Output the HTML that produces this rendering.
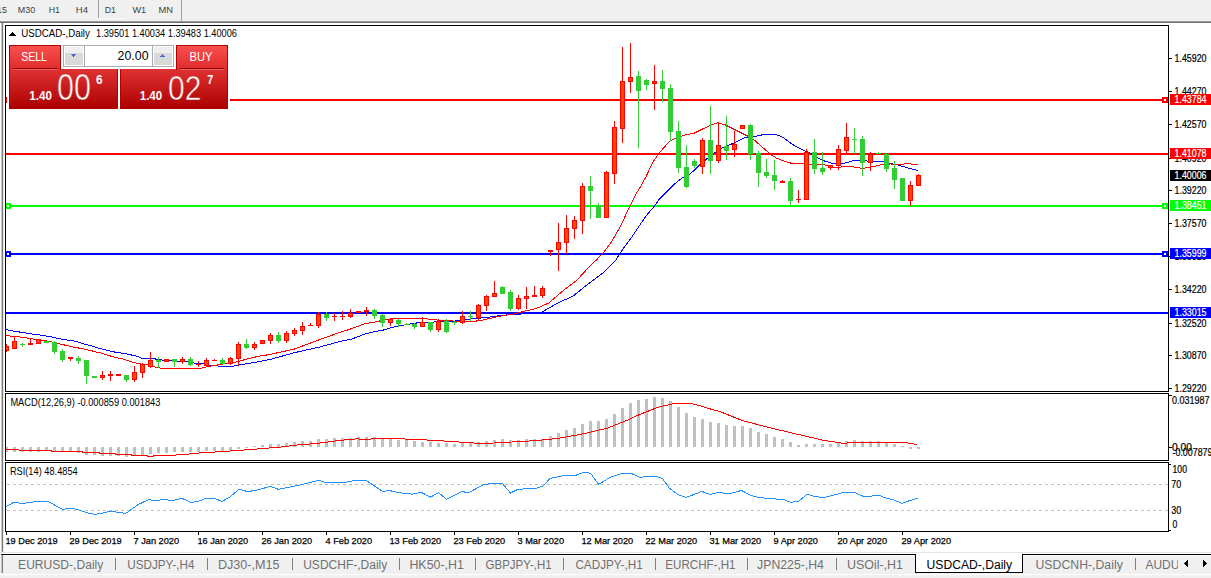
<!DOCTYPE html>
<html><head><meta charset="utf-8"><style>
html,body{margin:0;padding:0;background:#fff;overflow:hidden;width:1211px;height:578px}
svg{display:block;font-family:"Liberation Sans", sans-serif}
</style></head><body>
<svg width="1211" height="578" viewBox="0 0 1211 578" shape-rendering="crispEdges">
<rect x="0" y="0" width="1211" height="21" fill="#f0f0f0"/>
<rect x="0" y="21" width="1211" height="1" fill="#9a9a9a"/>
<rect x="0" y="22" width="1211" height="1" fill="#6e6e6e"/>
<pattern id="dots" width="2" height="2" patternUnits="userSpaceOnUse"><rect width="2" height="2" fill="#f6f6f6"/><rect width="1" height="1" fill="#e8e8e8"/><rect x="1" y="1" width="1" height="1" fill="#e8e8e8"/></pattern>
<rect x="99" y="0" width="25" height="18" fill="url(#dots)"/>
<rect x="98" y="18" width="26" height="1" fill="#fafafa"/>
<rect x="98" y="0" width="1" height="18" fill="#a0a0a0"/>
<rect x="181" y="0" width="1" height="21" fill="#a0a0a0"/>
<text x="-10.3" y="13" font-size="9.5" fill="#404040" textLength="17.3" lengthAdjust="spacingAndGlyphs">M15</text>
<text x="17.8" y="13" font-size="9.5" fill="#404040" textLength="17.3" lengthAdjust="spacingAndGlyphs">M30</text>
<text x="48.7" y="13" font-size="9.5" fill="#404040" textLength="11.2" lengthAdjust="spacingAndGlyphs">H1</text>
<text x="75.8" y="13" font-size="9.5" fill="#404040" textLength="12.2" lengthAdjust="spacingAndGlyphs">H4</text>
<text x="104.7" y="13" font-size="9.5" fill="#404040" textLength="11.3" lengthAdjust="spacingAndGlyphs">D1</text>
<text x="132.5" y="13" font-size="9.5" fill="#404040" textLength="13.7" lengthAdjust="spacingAndGlyphs">W1</text>
<text x="158.5" y="13" font-size="9.5" fill="#404040" textLength="14.5" lengthAdjust="spacingAndGlyphs">MN</text>
<rect x="1" y="23" width="1" height="529" fill="#c8c8c8"/>
<rect x="2" y="23" width="1" height="529" fill="#7a7a7a"/>
<rect x="3" y="23" width="1" height="529" fill="#e8e8e8"/>
<clipPath id="cmain"><rect x="6" y="26" width="1162" height="365"/></clipPath>
<clipPath id="cmacd"><rect x="6" y="394" width="1162" height="66"/></clipPath>
<clipPath id="crsi"><rect x="6" y="463" width="1162" height="68"/></clipPath>
<g clip-path="url(#cmain)">
<rect x="5" y="99" width="1164" height="2" fill="#ff0000"/>
<rect x="5" y="153" width="1164" height="2" fill="#ff0000"/>
<rect x="5" y="205" width="1164" height="2" fill="#00ff00"/>
<rect x="5" y="253" width="1164" height="2" fill="#0000ff"/>
<rect x="5" y="312" width="1164" height="2" fill="#0000ff"/>
<rect x="5" y="97" width="6" height="6" fill="#ff0000"/>
<rect x="7" y="99" width="2" height="2" fill="#fff"/>
<rect x="1162" y="97" width="6" height="6" fill="#ff0000"/>
<rect x="1164" y="99" width="2" height="2" fill="#fff"/>
<rect x="5" y="203" width="6" height="6" fill="#00ff00"/>
<rect x="7" y="205" width="2" height="2" fill="#fff"/>
<rect x="1162" y="203" width="6" height="6" fill="#00ff00"/>
<rect x="1164" y="205" width="2" height="2" fill="#fff"/>
<rect x="5" y="251" width="6" height="6" fill="#0000ff"/>
<rect x="7" y="253" width="2" height="2" fill="#fff"/>
<rect x="1162" y="251" width="6" height="6" fill="#0000ff"/>
<rect x="1164" y="253" width="2" height="2" fill="#fff"/>
<polyline points="5.0,329.3 10.6,330.6 18.8,331.9 24.9,332.8 29.2,333.6 35.3,334.5 43.0,335.4 49.0,336.5 54.3,337.3 57.8,338.6 67.3,340.0 75.0,341.2 80.3,342.8 85.4,344.3 92.4,346.0 100.0,348.6 112.4,351.7 124.8,353.5 137.2,356.3 142.0,358.4 152.0,358.4 159.5,359.7 169.4,360.9 186.6,361.5 195.1,363.3 203.6,364.0 210.8,365.4 218.1,366.0 233.8,366.0 237.5,365.1 242.3,364.5 249.6,363.3 256.9,362.1 269.8,359.5 294.5,352.7 319.3,347.1 340.0,341.5 352.1,339.0 364.2,334.2 373.9,331.8 383.6,330.0 392.1,327.3 400.5,325.7 410.2,323.9 418.7,322.7 427.2,322.4 440.0,321.7 452.0,321.5 459.4,320.3 466.8,319.4 476.7,318.4 489.0,317.2 501.5,315.3 513.9,314.4 526.0,313.7 540.0,313.0 543.7,311.0 557.5,303.1 573.1,296.1 586.9,284.9 604.2,271.9 615.8,260.0 622.7,249.3 631.0,238.2 640.0,224.7 646.9,215.0 653.9,206.7 659.4,199.1 667.7,190.8 674.6,183.9 681.6,178.3 690.0,174.2 700.2,164.5 711.1,155.1 722.0,148.1 734.5,142.7 743.8,138.0 754.7,136.5 765.6,134.1 774.9,134.1 782.7,137.2 792.0,144.2 800.0,148.6 809.7,152.9 817.0,157.4 824.4,161.0 834.7,164.0 842.0,163.5 848.0,162.5 853.8,160.3 859.7,160.3 867.0,161.0 881.8,161.5 890.6,163.5 898.0,165.0 906.8,167.6 917.8,170.6" fill="none" stroke="#0000ff" stroke-width="1"/>
<polyline points="5.0,335.4 11.0,336.2 25.0,337.5 30.0,338.6 35.0,339.2 43.0,340.2 49.0,341.5 57.0,343.0 61.0,344.3 67.0,345.5 73.0,347.0 78.5,348.0 84.6,349.2 90.6,350.5 96.0,352.0 101.0,353.0 112.4,356.6 124.8,359.5 133.4,362.5 141.0,364.0 152.0,365.5 155.7,367.2 163.0,368.6 199.0,368.6 210.8,366.0 218.1,364.8 225.4,363.6 235.1,362.3 243.5,360.0 252.0,357.8 260.0,356.0 269.8,354.5 294.5,349.0 319.3,339.7 340.0,332.4 352.1,328.5 364.2,323.9 376.3,321.7 380.0,320.9 393.3,318.5 427.2,318.4 428.4,319.6 443.3,320.3 450.7,320.9 464.3,321.5 479.2,320.9 489.0,318.6 501.5,315.9 513.9,314.0 522.5,311.6 532.5,309.5 540.0,307.0 548.8,303.0 562.7,291.0 576.5,280.6 590.4,265.5 596.4,260.0 603.3,252.7 611.6,241.6 620.0,227.1 628.2,209.8 636.5,193.2 640.0,187.5 646.1,176.5 653.0,162.0 659.9,152.2 669.6,141.2 676.6,137.7 685.0,134.9 694.0,133.3 711.1,124.8 718.1,122.8 725.1,124.8 734.5,129.5 746.9,135.7 754.7,140.4 762.5,147.4 771.8,155.1 776.5,158.2 789.0,162.9 800.0,163.7 824.4,164.7 833.2,167.6 842.0,166.9 853.8,166.9 862.6,168.4 871.5,166.9 881.8,164.7 890.6,164.0 900.9,164.4 908.2,163.5 917.8,165.0" fill="none" stroke="#ff0000" stroke-width="1"/>
<rect x="6" y="344" width="1" height="8" fill="#ff0000"/>
<rect x="4" y="346" width="5" height="5" fill="#ff0000"/>
<rect x="5" y="347" width="3" height="3" fill="#ff4500"/>
<rect x="14" y="336" width="1" height="13" fill="#ff0000"/>
<rect x="12" y="341" width="5" height="8" fill="#ff0000"/>
<rect x="13" y="342" width="3" height="6" fill="#ff4500"/>
<rect x="22" y="343" width="1" height="4" fill="#32cd32"/>
<rect x="20" y="344" width="5" height="1" fill="#32cd32"/>
<rect x="30" y="338" width="1" height="7" fill="#ff0000"/>
<rect x="28" y="343" width="5" height="2" fill="#ff0000"/>
<rect x="38" y="339" width="1" height="5" fill="#ff0000"/>
<rect x="36" y="339" width="5" height="5" fill="#ff0000"/>
<rect x="37" y="340" width="3" height="3" fill="#ff4500"/>
<rect x="46" y="341" width="1" height="2" fill="#32cd32"/>
<rect x="44" y="341" width="5" height="2" fill="#32cd32"/>
<rect x="54" y="341" width="1" height="13" fill="#32cd32"/>
<rect x="52" y="342" width="5" height="10" fill="#32cd32"/>
<rect x="62" y="349" width="1" height="13" fill="#32cd32"/>
<rect x="60" y="351" width="5" height="9" fill="#32cd32"/>
<rect x="70" y="357" width="1" height="4" fill="#ff0000"/>
<rect x="68" y="357" width="5" height="2" fill="#ff0000"/>
<rect x="78" y="356" width="1" height="8" fill="#32cd32"/>
<rect x="76" y="358" width="5" height="3" fill="#32cd32"/>
<rect x="86" y="360" width="1" height="24" fill="#32cd32"/>
<rect x="84" y="360" width="5" height="16" fill="#32cd32"/>
<rect x="94" y="376" width="1" height="2" fill="#32cd32"/>
<rect x="92" y="376" width="5" height="2" fill="#32cd32"/>
<rect x="102" y="371" width="1" height="9" fill="#ff0000"/>
<rect x="100" y="375" width="5" height="3" fill="#ff0000"/>
<rect x="101" y="376" width="3" height="1" fill="#ff4500"/>
<rect x="110" y="371" width="1" height="10" fill="#ff0000"/>
<rect x="108" y="374" width="5" height="2" fill="#ff0000"/>
<rect x="118" y="374" width="1" height="2" fill="#ff0000"/>
<rect x="116" y="374" width="5" height="2" fill="#ff0000"/>
<rect x="126" y="375" width="1" height="7" fill="#32cd32"/>
<rect x="124" y="375" width="5" height="5" fill="#32cd32"/>
<rect x="134" y="366" width="1" height="16" fill="#ff0000"/>
<rect x="132" y="372" width="5" height="8" fill="#ff0000"/>
<rect x="133" y="373" width="3" height="6" fill="#ff4500"/>
<rect x="142" y="363" width="1" height="15" fill="#ff0000"/>
<rect x="140" y="364" width="5" height="9" fill="#ff0000"/>
<rect x="141" y="365" width="3" height="7" fill="#ff4500"/>
<rect x="150" y="352" width="1" height="16" fill="#ff0000"/>
<rect x="148" y="360" width="5" height="7" fill="#ff0000"/>
<rect x="149" y="361" width="3" height="5" fill="#ff4500"/>
<rect x="158" y="357" width="1" height="11" fill="#32cd32"/>
<rect x="156" y="360" width="5" height="2" fill="#32cd32"/>
<rect x="166" y="359" width="1" height="3" fill="#ff0000"/>
<rect x="164" y="359" width="5" height="3" fill="#ff0000"/>
<rect x="165" y="360" width="3" height="1" fill="#ff4500"/>
<rect x="174" y="359" width="1" height="8" fill="#32cd32"/>
<rect x="172" y="359" width="5" height="3" fill="#32cd32"/>
<rect x="182" y="357" width="1" height="7" fill="#ff0000"/>
<rect x="180" y="359" width="5" height="3" fill="#ff0000"/>
<rect x="181" y="360" width="3" height="1" fill="#ff4500"/>
<rect x="190" y="357" width="1" height="9" fill="#32cd32"/>
<rect x="188" y="359" width="5" height="6" fill="#32cd32"/>
<rect x="198" y="361" width="1" height="6" fill="#ff0000"/>
<rect x="196" y="364" width="5" height="1" fill="#ff0000"/>
<rect x="206" y="358" width="1" height="9" fill="#ff0000"/>
<rect x="204" y="360" width="5" height="6" fill="#ff0000"/>
<rect x="205" y="361" width="3" height="4" fill="#ff4500"/>
<rect x="214" y="359" width="1" height="2" fill="#ff0000"/>
<rect x="212" y="360" width="5" height="1" fill="#ff0000"/>
<rect x="222" y="358" width="1" height="6" fill="#32cd32"/>
<rect x="220" y="360" width="5" height="4" fill="#32cd32"/>
<rect x="230" y="357" width="1" height="8" fill="#ff0000"/>
<rect x="228" y="358" width="5" height="6" fill="#ff0000"/>
<rect x="229" y="359" width="3" height="4" fill="#ff4500"/>
<rect x="238" y="342" width="1" height="24" fill="#ff0000"/>
<rect x="236" y="344" width="5" height="15" fill="#ff0000"/>
<rect x="237" y="345" width="3" height="13" fill="#ff4500"/>
<rect x="246" y="339" width="1" height="10" fill="#32cd32"/>
<rect x="244" y="344" width="5" height="4" fill="#32cd32"/>
<rect x="254" y="342" width="1" height="8" fill="#ff0000"/>
<rect x="252" y="344" width="5" height="4" fill="#ff0000"/>
<rect x="253" y="345" width="3" height="2" fill="#ff4500"/>
<rect x="262" y="340" width="1" height="4" fill="#ff0000"/>
<rect x="260" y="340" width="5" height="4" fill="#ff0000"/>
<rect x="261" y="341" width="3" height="2" fill="#ff4500"/>
<rect x="270" y="333" width="1" height="11" fill="#ff0000"/>
<rect x="268" y="335" width="5" height="6" fill="#ff0000"/>
<rect x="269" y="336" width="3" height="4" fill="#ff4500"/>
<rect x="278" y="332" width="1" height="11" fill="#32cd32"/>
<rect x="276" y="335" width="5" height="6" fill="#32cd32"/>
<rect x="286" y="331" width="1" height="12" fill="#ff0000"/>
<rect x="284" y="333" width="5" height="8" fill="#ff0000"/>
<rect x="285" y="334" width="3" height="6" fill="#ff4500"/>
<rect x="294" y="328" width="1" height="8" fill="#ff0000"/>
<rect x="292" y="330" width="5" height="4" fill="#ff0000"/>
<rect x="293" y="331" width="3" height="2" fill="#ff4500"/>
<rect x="302" y="322" width="1" height="13" fill="#ff0000"/>
<rect x="300" y="326" width="5" height="5" fill="#ff0000"/>
<rect x="301" y="327" width="3" height="3" fill="#ff4500"/>
<rect x="310" y="323" width="1" height="3" fill="#ff0000"/>
<rect x="308" y="325" width="5" height="1" fill="#ff0000"/>
<rect x="318" y="312" width="1" height="16" fill="#ff0000"/>
<rect x="316" y="314" width="5" height="12" fill="#ff0000"/>
<rect x="317" y="315" width="3" height="10" fill="#ff4500"/>
<rect x="326" y="312" width="1" height="9" fill="#32cd32"/>
<rect x="324" y="314" width="5" height="4" fill="#32cd32"/>
<rect x="334" y="313" width="1" height="8" fill="#ff0000"/>
<rect x="332" y="316" width="5" height="1" fill="#ff0000"/>
<rect x="342" y="311" width="1" height="9" fill="#ff0000"/>
<rect x="340" y="316" width="5" height="1" fill="#ff0000"/>
<rect x="350" y="309" width="1" height="9" fill="#ff0000"/>
<rect x="348" y="313" width="5" height="4" fill="#ff0000"/>
<rect x="349" y="314" width="3" height="2" fill="#ff4500"/>
<rect x="358" y="311" width="1" height="2" fill="#ff0000"/>
<rect x="356" y="311" width="5" height="2" fill="#ff0000"/>
<rect x="366" y="307" width="1" height="9" fill="#ff0000"/>
<rect x="364" y="310" width="5" height="2" fill="#ff0000"/>
<rect x="374" y="309" width="1" height="10" fill="#32cd32"/>
<rect x="372" y="310" width="5" height="6" fill="#32cd32"/>
<rect x="382" y="314" width="1" height="13" fill="#32cd32"/>
<rect x="380" y="315" width="5" height="8" fill="#32cd32"/>
<rect x="390" y="318" width="1" height="8" fill="#ff0000"/>
<rect x="388" y="319" width="5" height="4" fill="#ff0000"/>
<rect x="389" y="320" width="3" height="2" fill="#ff4500"/>
<rect x="398" y="319" width="1" height="8" fill="#32cd32"/>
<rect x="396" y="320" width="5" height="4" fill="#32cd32"/>
<rect x="406" y="323" width="1" height="2" fill="#32cd32"/>
<rect x="404" y="324" width="5" height="1" fill="#32cd32"/>
<rect x="414" y="323" width="1" height="6" fill="#32cd32"/>
<rect x="412" y="324" width="5" height="3" fill="#32cd32"/>
<rect x="422" y="317" width="1" height="10" fill="#ff0000"/>
<rect x="420" y="322" width="5" height="5" fill="#ff0000"/>
<rect x="421" y="323" width="3" height="3" fill="#ff4500"/>
<rect x="430" y="322" width="1" height="10" fill="#32cd32"/>
<rect x="428" y="322" width="5" height="8" fill="#32cd32"/>
<rect x="438" y="319" width="1" height="13" fill="#ff0000"/>
<rect x="436" y="321" width="5" height="9" fill="#ff0000"/>
<rect x="437" y="322" width="3" height="7" fill="#ff4500"/>
<rect x="446" y="319" width="1" height="14" fill="#32cd32"/>
<rect x="444" y="321" width="5" height="11" fill="#32cd32"/>
<rect x="454" y="321" width="1" height="4" fill="#32cd32"/>
<rect x="452" y="322" width="5" height="1" fill="#32cd32"/>
<rect x="462" y="311" width="1" height="13" fill="#ff0000"/>
<rect x="460" y="316" width="5" height="7" fill="#ff0000"/>
<rect x="461" y="317" width="3" height="5" fill="#ff4500"/>
<rect x="470" y="311" width="1" height="10" fill="#32cd32"/>
<rect x="468" y="316" width="5" height="1" fill="#32cd32"/>
<rect x="478" y="304" width="1" height="16" fill="#ff0000"/>
<rect x="476" y="305" width="5" height="13" fill="#ff0000"/>
<rect x="477" y="306" width="3" height="11" fill="#ff4500"/>
<rect x="486" y="295" width="1" height="16" fill="#ff0000"/>
<rect x="484" y="296" width="5" height="10" fill="#ff0000"/>
<rect x="485" y="297" width="3" height="8" fill="#ff4500"/>
<rect x="494" y="281" width="1" height="16" fill="#ff0000"/>
<rect x="492" y="293" width="5" height="4" fill="#ff0000"/>
<rect x="493" y="294" width="3" height="2" fill="#ff4500"/>
<rect x="502" y="286" width="1" height="8" fill="#32cd32"/>
<rect x="500" y="287" width="5" height="7" fill="#32cd32"/>
<rect x="510" y="290" width="1" height="21" fill="#32cd32"/>
<rect x="508" y="292" width="5" height="17" fill="#32cd32"/>
<rect x="518" y="295" width="1" height="15" fill="#ff0000"/>
<rect x="516" y="298" width="5" height="11" fill="#ff0000"/>
<rect x="517" y="299" width="3" height="9" fill="#ff4500"/>
<rect x="526" y="287" width="1" height="22" fill="#ff0000"/>
<rect x="524" y="296" width="5" height="3" fill="#ff0000"/>
<rect x="525" y="297" width="3" height="1" fill="#ff4500"/>
<rect x="534" y="286" width="1" height="11" fill="#ff0000"/>
<rect x="532" y="295" width="5" height="2" fill="#ff0000"/>
<rect x="542" y="286" width="1" height="12" fill="#ff0000"/>
<rect x="540" y="288" width="5" height="8" fill="#ff0000"/>
<rect x="541" y="289" width="3" height="6" fill="#ff4500"/>
<rect x="550" y="250" width="1" height="6" fill="#ff0000"/>
<rect x="548" y="250" width="5" height="2" fill="#ff0000"/>
<rect x="558" y="223" width="1" height="48" fill="#ff0000"/>
<rect x="556" y="242" width="5" height="8" fill="#ff0000"/>
<rect x="557" y="243" width="3" height="6" fill="#ff4500"/>
<rect x="566" y="215" width="1" height="39" fill="#ff0000"/>
<rect x="564" y="228" width="5" height="15" fill="#ff0000"/>
<rect x="565" y="229" width="3" height="13" fill="#ff4500"/>
<rect x="574" y="216" width="1" height="23" fill="#ff0000"/>
<rect x="572" y="220" width="5" height="9" fill="#ff0000"/>
<rect x="573" y="221" width="3" height="7" fill="#ff4500"/>
<rect x="582" y="183" width="1" height="51" fill="#ff0000"/>
<rect x="580" y="186" width="5" height="35" fill="#ff0000"/>
<rect x="581" y="187" width="3" height="33" fill="#ff4500"/>
<rect x="590" y="176" width="1" height="43" fill="#32cd32"/>
<rect x="588" y="186" width="5" height="5" fill="#32cd32"/>
<rect x="598" y="203" width="1" height="15" fill="#32cd32"/>
<rect x="596" y="205" width="5" height="13" fill="#32cd32"/>
<rect x="606" y="171" width="1" height="47" fill="#ff0000"/>
<rect x="604" y="172" width="5" height="46" fill="#ff0000"/>
<rect x="605" y="173" width="3" height="44" fill="#ff4500"/>
<rect x="614" y="121" width="1" height="63" fill="#ff0000"/>
<rect x="612" y="127" width="5" height="47" fill="#ff0000"/>
<rect x="613" y="128" width="3" height="45" fill="#ff4500"/>
<rect x="622" y="47" width="1" height="96" fill="#ff0000"/>
<rect x="620" y="81" width="5" height="48" fill="#ff0000"/>
<rect x="621" y="82" width="3" height="46" fill="#ff4500"/>
<rect x="630" y="43" width="1" height="50" fill="#ff0000"/>
<rect x="628" y="77" width="5" height="5" fill="#ff0000"/>
<rect x="629" y="78" width="3" height="3" fill="#ff4500"/>
<rect x="638" y="71" width="1" height="77" fill="#32cd32"/>
<rect x="636" y="76" width="5" height="15" fill="#32cd32"/>
<rect x="646" y="79" width="1" height="11" fill="#32cd32"/>
<rect x="644" y="80" width="5" height="5" fill="#32cd32"/>
<rect x="654" y="65" width="1" height="45" fill="#ff0000"/>
<rect x="652" y="81" width="5" height="3" fill="#ff0000"/>
<rect x="653" y="82" width="3" height="1" fill="#ff4500"/>
<rect x="662" y="70" width="1" height="32" fill="#32cd32"/>
<rect x="660" y="81" width="5" height="8" fill="#32cd32"/>
<rect x="670" y="84" width="1" height="57" fill="#32cd32"/>
<rect x="668" y="88" width="5" height="44" fill="#32cd32"/>
<rect x="678" y="121" width="1" height="52" fill="#32cd32"/>
<rect x="676" y="131" width="5" height="37" fill="#32cd32"/>
<rect x="686" y="145" width="1" height="43" fill="#32cd32"/>
<rect x="684" y="167" width="5" height="20" fill="#32cd32"/>
<rect x="694" y="159" width="1" height="9" fill="#32cd32"/>
<rect x="692" y="161" width="5" height="5" fill="#32cd32"/>
<rect x="702" y="138" width="1" height="36" fill="#ff0000"/>
<rect x="700" y="140" width="5" height="27" fill="#ff0000"/>
<rect x="701" y="141" width="3" height="25" fill="#ff4500"/>
<rect x="710" y="106" width="1" height="68" fill="#32cd32"/>
<rect x="708" y="140" width="5" height="21" fill="#32cd32"/>
<rect x="718" y="122" width="1" height="41" fill="#ff0000"/>
<rect x="716" y="145" width="5" height="16" fill="#ff0000"/>
<rect x="717" y="146" width="3" height="14" fill="#ff4500"/>
<rect x="726" y="116" width="1" height="44" fill="#32cd32"/>
<rect x="724" y="146" width="5" height="5" fill="#32cd32"/>
<rect x="734" y="131" width="1" height="26" fill="#ff0000"/>
<rect x="732" y="144" width="5" height="6" fill="#ff0000"/>
<rect x="733" y="145" width="3" height="4" fill="#ff4500"/>
<rect x="742" y="125" width="1" height="4" fill="#ff0000"/>
<rect x="740" y="125" width="5" height="4" fill="#ff0000"/>
<rect x="741" y="126" width="3" height="2" fill="#ff4500"/>
<rect x="750" y="124" width="1" height="36" fill="#32cd32"/>
<rect x="748" y="125" width="5" height="29" fill="#32cd32"/>
<rect x="758" y="151" width="1" height="36" fill="#32cd32"/>
<rect x="756" y="153" width="5" height="20" fill="#32cd32"/>
<rect x="766" y="159" width="1" height="19" fill="#32cd32"/>
<rect x="764" y="172" width="5" height="4" fill="#32cd32"/>
<rect x="774" y="160" width="1" height="30" fill="#32cd32"/>
<rect x="772" y="175" width="5" height="6" fill="#32cd32"/>
<rect x="782" y="180" width="1" height="3" fill="#ff0000"/>
<rect x="780" y="181" width="5" height="2" fill="#ff0000"/>
<rect x="790" y="178" width="1" height="28" fill="#32cd32"/>
<rect x="788" y="181" width="5" height="20" fill="#32cd32"/>
<rect x="798" y="190" width="1" height="13" fill="#ff0000"/>
<rect x="796" y="199" width="5" height="1" fill="#ff0000"/>
<rect x="806" y="149" width="1" height="51" fill="#ff0000"/>
<rect x="804" y="152" width="5" height="48" fill="#ff0000"/>
<rect x="805" y="153" width="3" height="46" fill="#ff4500"/>
<rect x="814" y="139" width="1" height="35" fill="#32cd32"/>
<rect x="812" y="152" width="5" height="17" fill="#32cd32"/>
<rect x="822" y="152" width="1" height="23" fill="#32cd32"/>
<rect x="820" y="168" width="5" height="4" fill="#32cd32"/>
<rect x="830" y="165" width="1" height="5" fill="#ff0000"/>
<rect x="828" y="165" width="5" height="3" fill="#ff0000"/>
<rect x="829" y="166" width="3" height="1" fill="#ff4500"/>
<rect x="838" y="145" width="1" height="25" fill="#ff0000"/>
<rect x="836" y="149" width="5" height="17" fill="#ff0000"/>
<rect x="837" y="150" width="3" height="15" fill="#ff4500"/>
<rect x="846" y="123" width="1" height="31" fill="#ff0000"/>
<rect x="844" y="137" width="5" height="14" fill="#ff0000"/>
<rect x="845" y="138" width="3" height="12" fill="#ff4500"/>
<rect x="854" y="128" width="1" height="26" fill="#32cd32"/>
<rect x="852" y="139" width="5" height="1" fill="#32cd32"/>
<rect x="862" y="136" width="1" height="40" fill="#32cd32"/>
<rect x="860" y="139" width="5" height="24" fill="#32cd32"/>
<rect x="870" y="152" width="1" height="19" fill="#ff0000"/>
<rect x="868" y="154" width="5" height="9" fill="#ff0000"/>
<rect x="869" y="155" width="3" height="7" fill="#ff4500"/>
<rect x="878" y="152" width="1" height="2" fill="#32cd32"/>
<rect x="876" y="153" width="5" height="1" fill="#32cd32"/>
<rect x="886" y="153" width="1" height="19" fill="#32cd32"/>
<rect x="884" y="154" width="5" height="15" fill="#32cd32"/>
<rect x="894" y="161" width="1" height="28" fill="#32cd32"/>
<rect x="892" y="168" width="5" height="12" fill="#32cd32"/>
<rect x="902" y="178" width="1" height="23" fill="#32cd32"/>
<rect x="900" y="178" width="5" height="23" fill="#32cd32"/>
<rect x="910" y="181" width="1" height="25" fill="#ff0000"/>
<rect x="908" y="185" width="5" height="16" fill="#ff0000"/>
<rect x="909" y="186" width="3" height="14" fill="#ff4500"/>
<rect x="918" y="174" width="1" height="12" fill="#ff0000"/>
<rect x="916" y="175" width="5" height="11" fill="#ff0000"/>
<rect x="917" y="176" width="3" height="9" fill="#ff4500"/>
</g>
<rect x="5" y="25" width="1164" height="1" fill="#000"/>
<rect x="5" y="391" width="1164" height="1" fill="#000"/>
<rect x="5" y="25" width="1" height="367" fill="#000"/>
<rect x="1168" y="25" width="1" height="367" fill="#000"/>
<rect x="5" y="393" width="1164" height="1" fill="#000"/>
<rect x="5" y="460" width="1164" height="1" fill="#000"/>
<rect x="5" y="393" width="1" height="68" fill="#000"/>
<rect x="1168" y="393" width="1" height="68" fill="#000"/>
<rect x="5" y="462" width="1164" height="1" fill="#000"/>
<rect x="5" y="531" width="1164" height="1" fill="#000"/>
<rect x="5" y="462" width="1" height="70" fill="#000"/>
<rect x="1168" y="462" width="1" height="70" fill="#000"/>
<rect x="1169" y="58" width="3" height="1" fill="#000"/>
<text x="1174.5" y="62" font-size="10" fill="#000" textLength="32" lengthAdjust="spacingAndGlyphs" stroke="#000" stroke-width="0.2">1.45920</text>
<rect x="1169" y="91" width="3" height="1" fill="#000"/>
<text x="1174.5" y="95" font-size="10" fill="#000" textLength="32" lengthAdjust="spacingAndGlyphs" stroke="#000" stroke-width="0.2">1.44270</text>
<rect x="1169" y="124" width="3" height="1" fill="#000"/>
<text x="1174.5" y="128" font-size="10" fill="#000" textLength="32" lengthAdjust="spacingAndGlyphs" stroke="#000" stroke-width="0.2">1.42570</text>
<rect x="1169" y="158" width="3" height="1" fill="#000"/>
<text x="1174.5" y="162" font-size="10" fill="#000" textLength="32" lengthAdjust="spacingAndGlyphs" stroke="#000" stroke-width="0.2">1.40920</text>
<rect x="1169" y="190" width="3" height="1" fill="#000"/>
<text x="1174.5" y="194" font-size="10" fill="#000" textLength="32" lengthAdjust="spacingAndGlyphs" stroke="#000" stroke-width="0.2">1.39220</text>
<rect x="1169" y="223" width="3" height="1" fill="#000"/>
<text x="1174.5" y="227" font-size="10" fill="#000" textLength="32" lengthAdjust="spacingAndGlyphs" stroke="#000" stroke-width="0.2">1.37570</text>
<rect x="1169" y="256" width="3" height="1" fill="#000"/>
<text x="1174.5" y="260" font-size="10" fill="#000" textLength="32" lengthAdjust="spacingAndGlyphs" stroke="#000" stroke-width="0.2">1.35920</text>
<rect x="1169" y="289" width="3" height="1" fill="#000"/>
<text x="1174.5" y="293" font-size="10" fill="#000" textLength="32" lengthAdjust="spacingAndGlyphs" stroke="#000" stroke-width="0.2">1.34220</text>
<rect x="1169" y="323" width="3" height="1" fill="#000"/>
<text x="1174.5" y="327" font-size="10" fill="#000" textLength="32" lengthAdjust="spacingAndGlyphs" stroke="#000" stroke-width="0.2">1.32520</text>
<rect x="1169" y="355" width="3" height="1" fill="#000"/>
<text x="1174.5" y="359" font-size="10" fill="#000" textLength="32" lengthAdjust="spacingAndGlyphs" stroke="#000" stroke-width="0.2">1.30870</text>
<rect x="1169" y="388" width="3" height="1" fill="#000"/>
<text x="1174.5" y="392" font-size="10" fill="#000" textLength="32" lengthAdjust="spacingAndGlyphs" stroke="#000" stroke-width="0.2">1.29220</text>
<rect x="1170" y="94" width="41" height="11" fill="#ff0000"/>
<text x="1174.5" y="103" font-size="10" fill="#fff" textLength="32" lengthAdjust="spacingAndGlyphs" stroke="#fff" stroke-width="0.2">1.43784</text>
<rect x="1170" y="148" width="41" height="11" fill="#ff0000"/>
<text x="1174.5" y="157" font-size="10" fill="#fff" textLength="32" lengthAdjust="spacingAndGlyphs" stroke="#fff" stroke-width="0.2">1.41078</text>
<rect x="1170" y="170" width="41" height="11" fill="#000000"/>
<text x="1174.5" y="179" font-size="10" fill="#fff" textLength="32" lengthAdjust="spacingAndGlyphs" stroke="#fff" stroke-width="0.2">1.40006</text>
<rect x="1170" y="200" width="41" height="11" fill="#00ff00"/>
<text x="1174.5" y="209" font-size="10" fill="#fff" textLength="32" lengthAdjust="spacingAndGlyphs" stroke="#fff" stroke-width="0.2">1.38451</text>
<rect x="1170" y="248" width="41" height="11" fill="#0000ff"/>
<text x="1174.5" y="257" font-size="10" fill="#fff" textLength="32" lengthAdjust="spacingAndGlyphs" stroke="#fff" stroke-width="0.2">1.35999</text>
<rect x="1170" y="307" width="41" height="11" fill="#0000ff"/>
<text x="1174.5" y="316" font-size="10" fill="#fff" textLength="32" lengthAdjust="spacingAndGlyphs" stroke="#fff" stroke-width="0.2">1.33015</text>
<rect x="12" y="32" width="1" height="1" fill="#000"/>
<rect x="11" y="33" width="3" height="1" fill="#000"/>
<rect x="10" y="34" width="5" height="1" fill="#000"/>
<rect x="9" y="35" width="7" height="1" fill="#000"/>
<text x="21.3" y="37" font-size="10" fill="#000" textLength="68.5" lengthAdjust="spacingAndGlyphs">USDCAD-,Daily</text>
<text x="96" y="37" font-size="10" fill="#000" textLength="141" lengthAdjust="spacingAndGlyphs">1.39501 1.40034 1.39483 1.40006</text>
<g clip-path="url(#cmacd)">
<rect x="5" y="447" width="3" height="5" fill="#c0c0c0"/>
<rect x="13" y="447" width="3" height="5" fill="#c0c0c0"/>
<rect x="21" y="447" width="3" height="5" fill="#c0c0c0"/>
<rect x="29" y="447" width="3" height="5" fill="#c0c0c0"/>
<rect x="37" y="447" width="3" height="5" fill="#c0c0c0"/>
<rect x="45" y="447" width="3" height="4" fill="#c0c0c0"/>
<rect x="53" y="447" width="3" height="4" fill="#c0c0c0"/>
<rect x="61" y="447" width="3" height="5" fill="#c0c0c0"/>
<rect x="69" y="447" width="3" height="5" fill="#c0c0c0"/>
<rect x="77" y="447" width="3" height="6" fill="#c0c0c0"/>
<rect x="85" y="447" width="3" height="8" fill="#c0c0c0"/>
<rect x="93" y="447" width="3" height="8" fill="#c0c0c0"/>
<rect x="101" y="447" width="3" height="9" fill="#c0c0c0"/>
<rect x="109" y="447" width="3" height="9" fill="#c0c0c0"/>
<rect x="117" y="447" width="3" height="9" fill="#c0c0c0"/>
<rect x="125" y="447" width="3" height="10" fill="#c0c0c0"/>
<rect x="133" y="447" width="3" height="9" fill="#c0c0c0"/>
<rect x="141" y="447" width="3" height="8" fill="#c0c0c0"/>
<rect x="149" y="447" width="3" height="7" fill="#c0c0c0"/>
<rect x="157" y="447" width="3" height="6" fill="#c0c0c0"/>
<rect x="165" y="447" width="3" height="6" fill="#c0c0c0"/>
<rect x="173" y="447" width="3" height="5" fill="#c0c0c0"/>
<rect x="181" y="447" width="3" height="5" fill="#c0c0c0"/>
<rect x="189" y="447" width="3" height="5" fill="#c0c0c0"/>
<rect x="197" y="447" width="3" height="5" fill="#c0c0c0"/>
<rect x="205" y="447" width="3" height="4" fill="#c0c0c0"/>
<rect x="213" y="447" width="3" height="4" fill="#c0c0c0"/>
<rect x="221" y="447" width="3" height="4" fill="#c0c0c0"/>
<rect x="229" y="447" width="3" height="3" fill="#c0c0c0"/>
<rect x="237" y="447" width="3" height="2" fill="#c0c0c0"/>
<rect x="245" y="447" width="3" height="1" fill="#c0c0c0"/>
<rect x="253" y="446" width="3" height="1" fill="#c0c0c0"/>
<rect x="261" y="445" width="3" height="2" fill="#c0c0c0"/>
<rect x="269" y="444" width="3" height="3" fill="#c0c0c0"/>
<rect x="277" y="444" width="3" height="3" fill="#c0c0c0"/>
<rect x="285" y="443" width="3" height="4" fill="#c0c0c0"/>
<rect x="293" y="442" width="3" height="5" fill="#c0c0c0"/>
<rect x="301" y="441" width="3" height="6" fill="#c0c0c0"/>
<rect x="309" y="441" width="3" height="6" fill="#c0c0c0"/>
<rect x="317" y="439" width="3" height="8" fill="#c0c0c0"/>
<rect x="325" y="439" width="3" height="8" fill="#c0c0c0"/>
<rect x="333" y="438" width="3" height="9" fill="#c0c0c0"/>
<rect x="341" y="438" width="3" height="9" fill="#c0c0c0"/>
<rect x="349" y="438" width="3" height="9" fill="#c0c0c0"/>
<rect x="357" y="437" width="3" height="10" fill="#c0c0c0"/>
<rect x="365" y="437" width="3" height="10" fill="#c0c0c0"/>
<rect x="373" y="437" width="3" height="10" fill="#c0c0c0"/>
<rect x="381" y="438" width="3" height="9" fill="#c0c0c0"/>
<rect x="389" y="438" width="3" height="9" fill="#c0c0c0"/>
<rect x="397" y="440" width="3" height="7" fill="#c0c0c0"/>
<rect x="405" y="440" width="3" height="7" fill="#c0c0c0"/>
<rect x="413" y="441" width="3" height="6" fill="#c0c0c0"/>
<rect x="421" y="442" width="3" height="5" fill="#c0c0c0"/>
<rect x="429" y="442" width="3" height="5" fill="#c0c0c0"/>
<rect x="437" y="443" width="3" height="4" fill="#c0c0c0"/>
<rect x="445" y="443" width="3" height="4" fill="#c0c0c0"/>
<rect x="453" y="444" width="3" height="3" fill="#c0c0c0"/>
<rect x="461" y="442" width="3" height="5" fill="#c0c0c0"/>
<rect x="469" y="442" width="3" height="5" fill="#c0c0c0"/>
<rect x="477" y="442" width="3" height="5" fill="#c0c0c0"/>
<rect x="485" y="441" width="3" height="6" fill="#c0c0c0"/>
<rect x="493" y="440" width="3" height="7" fill="#c0c0c0"/>
<rect x="501" y="439" width="3" height="8" fill="#c0c0c0"/>
<rect x="509" y="440" width="3" height="7" fill="#c0c0c0"/>
<rect x="517" y="440" width="3" height="7" fill="#c0c0c0"/>
<rect x="525" y="439" width="3" height="8" fill="#c0c0c0"/>
<rect x="533" y="439" width="3" height="8" fill="#c0c0c0"/>
<rect x="541" y="439" width="3" height="8" fill="#c0c0c0"/>
<rect x="549" y="436" width="3" height="11" fill="#c0c0c0"/>
<rect x="557" y="433" width="3" height="14" fill="#c0c0c0"/>
<rect x="565" y="430" width="3" height="17" fill="#c0c0c0"/>
<rect x="573" y="428" width="3" height="19" fill="#c0c0c0"/>
<rect x="581" y="424" width="3" height="23" fill="#c0c0c0"/>
<rect x="589" y="421" width="3" height="26" fill="#c0c0c0"/>
<rect x="597" y="421" width="3" height="26" fill="#c0c0c0"/>
<rect x="605" y="419" width="3" height="28" fill="#c0c0c0"/>
<rect x="613" y="414" width="3" height="33" fill="#c0c0c0"/>
<rect x="621" y="408" width="3" height="39" fill="#c0c0c0"/>
<rect x="629" y="403" width="3" height="44" fill="#c0c0c0"/>
<rect x="637" y="400" width="3" height="47" fill="#c0c0c0"/>
<rect x="645" y="399" width="3" height="48" fill="#c0c0c0"/>
<rect x="653" y="397" width="3" height="50" fill="#c0c0c0"/>
<rect x="661" y="398" width="3" height="49" fill="#c0c0c0"/>
<rect x="669" y="401" width="3" height="46" fill="#c0c0c0"/>
<rect x="677" y="407" width="3" height="40" fill="#c0c0c0"/>
<rect x="685" y="413" width="3" height="34" fill="#c0c0c0"/>
<rect x="693" y="417" width="3" height="30" fill="#c0c0c0"/>
<rect x="701" y="419" width="3" height="28" fill="#c0c0c0"/>
<rect x="709" y="422" width="3" height="25" fill="#c0c0c0"/>
<rect x="717" y="423" width="3" height="24" fill="#c0c0c0"/>
<rect x="725" y="425" width="3" height="22" fill="#c0c0c0"/>
<rect x="733" y="426" width="3" height="21" fill="#c0c0c0"/>
<rect x="741" y="426" width="3" height="21" fill="#c0c0c0"/>
<rect x="749" y="428" width="3" height="19" fill="#c0c0c0"/>
<rect x="757" y="432" width="3" height="15" fill="#c0c0c0"/>
<rect x="765" y="434" width="3" height="13" fill="#c0c0c0"/>
<rect x="773" y="437" width="3" height="10" fill="#c0c0c0"/>
<rect x="781" y="439" width="3" height="8" fill="#c0c0c0"/>
<rect x="789" y="442" width="3" height="5" fill="#c0c0c0"/>
<rect x="797" y="445" width="3" height="2" fill="#c0c0c0"/>
<rect x="805" y="444" width="3" height="3" fill="#c0c0c0"/>
<rect x="813" y="444" width="3" height="3" fill="#c0c0c0"/>
<rect x="821" y="444" width="3" height="3" fill="#c0c0c0"/>
<rect x="829" y="444" width="3" height="3" fill="#c0c0c0"/>
<rect x="837" y="443" width="3" height="4" fill="#c0c0c0"/>
<rect x="845" y="441" width="3" height="6" fill="#c0c0c0"/>
<rect x="853" y="440" width="3" height="7" fill="#c0c0c0"/>
<rect x="861" y="441" width="3" height="6" fill="#c0c0c0"/>
<rect x="869" y="441" width="3" height="6" fill="#c0c0c0"/>
<rect x="877" y="441" width="3" height="6" fill="#c0c0c0"/>
<rect x="885" y="443" width="3" height="4" fill="#c0c0c0"/>
<rect x="893" y="444" width="3" height="3" fill="#c0c0c0"/>
<rect x="901" y="446" width="3" height="1" fill="#c0c0c0"/>
<rect x="909" y="447" width="3" height="2" fill="#c0c0c0"/>
<rect x="917" y="447" width="3" height="2" fill="#c0c0c0"/>
<polyline points="5.0,449.5 18.8,449.5 19.0,450.2 51.0,450.2 51.2,451.4 82.8,451.4 83.0,452.5 99.4,452.5 99.6,453.5 115.2,453.5 115.4,454.4 131.0,454.4 131.2,455.3 147.6,455.3 147.8,456.3 153.6,456.3 154.0,455.2 168.7,455.5 185.6,454.3 198.0,453.1 210.0,452.3 225.7,451.3 241.8,450.2 254.1,449.3 266.2,448.2 278.1,447.4 286.4,446.4 294.2,445.2 305.8,444.4 318.2,443.2 326.4,442.2 334.3,441.1 345.4,439.9 356.0,438.9 365.0,439.2 390.0,438.4 418.7,439.6 434.8,440.4 450.9,441.5 467.4,442.5 482.6,443.7 501.6,442.5 521.9,441.5 538.4,440.4 550.8,439.2 557.5,438.4 569.7,436.3 584.6,433.6 599.5,429.9 606.9,428.4 614.3,425.4 629.2,419.5 636.6,415.8 644.0,412.8 658.9,406.9 666.3,405.4 673.8,403.6 688.6,403.1 696.1,404.6 703.5,406.9 710.9,409.1 720.0,411.6 742.0,420.4 769.5,427.7 796.7,434.1 824.0,440.4 842.0,443.1 869.4,442.6 905.7,442.6 916.6,444.4" fill="none" stroke="#ff0000" stroke-width="1"/>
</g>
<text x="10.4" y="406" font-size="11" fill="#000" textLength="150" lengthAdjust="spacingAndGlyphs">MACD(12,26,9) -0.000859 0.001843</text>
<rect x="1169" y="395" width="3" height="1" fill="#000"/>
<text x="1172" y="404" font-size="10" fill="#000" textLength="37.5" lengthAdjust="spacingAndGlyphs" stroke="#000" stroke-width="0.2">0.031987</text>
<rect x="1169" y="447" width="3" height="1" fill="#000"/>
<text x="1172" y="451" font-size="10" fill="#000" textLength="20" lengthAdjust="spacingAndGlyphs" stroke="#000" stroke-width="0.2">0.00</text>
<text x="1172.5" y="455.5" font-size="10" fill="#000" textLength="40" lengthAdjust="spacingAndGlyphs" stroke="#000" stroke-width="0.2">-0.007879</text>
<g clip-path="url(#crsi)">
<line x1="7" y1="484.5" x2="1168" y2="484.5" stroke="#c0c0c0" stroke-width="1" stroke-dasharray="3,3"/>
<line x1="7" y1="510.5" x2="1168" y2="510.5" stroke="#c0c0c0" stroke-width="1" stroke-dasharray="3,3"/>
<polyline points="5.5,507.0 13.5,502.5 16.0,502.5 22.5,503.5 30.0,502.5 38.6,501.2 47.6,501.2 62.4,509.4 69.9,508.3 77.3,509.4 89.2,513.5 95.1,514.3 104.0,512.8 110.0,511.3 118.9,512.4 125.6,513.5 138.2,504.5 148.6,499.7 156.0,500.5 165.0,499.4 172.4,500.8 181.7,498.2 191.3,502.4 198.8,501.2 206.2,498.2 215.1,498.5 221.8,501.5 230.0,497.0 238.9,489.3 247.8,491.6 255.3,490.4 264.2,488.1 270.1,486.3 278.3,489.3 288.0,487.4 296.9,485.6 305.8,483.7 318.4,480.4 325.1,482.2 345.9,482.2 354.5,480.4 366.3,480.4 382.7,491.6 388.6,490.4 399.0,492.6 412.4,494.2 421.3,492.3 430.3,497.2 438.4,492.6 446.6,499.3 461.5,491.6 468.9,492.6 482.3,485.2 490.5,483.4 502.3,483.4 510.5,493.0 518.0,489.3 530.0,488.6 535.4,488.5 542.8,486.1 550.3,478.3 563.6,475.7 575.5,475.4 583.7,472.4 590.4,473.1 598.6,484.3 609.7,477.6 621.6,473.4 631.3,473.4 639.5,477.2 655.8,476.4 662.5,478.6 669.2,488.0 678.1,494.7 686.3,497.4 701.9,491.4 710.4,494.5 717.8,492.6 729.7,493.5 741.6,490.5 750.5,495.3 758.0,497.2 769.9,498.7 783.2,499.4 790.7,502.4 798.8,501.2 807.0,494.2 814.4,496.5 823.4,497.5 832.3,495.6 842.7,492.6 855.3,492.6 863.5,496.5 879.7,495.6 886.3,498.2 892.3,499.4 902.0,503.4 910.0,500.5 917.6,498.2" fill="none" stroke="#1e90ff" stroke-width="1"/>
</g>
<text x="9.9" y="475" font-size="11" fill="#000" textLength="67.8" lengthAdjust="spacingAndGlyphs">RSI(14) 48.4854</text>
<text x="1172.5" y="473" font-size="10" fill="#000" textLength="14.5" lengthAdjust="spacingAndGlyphs" stroke="#000" stroke-width="0.2">100</text>
<text x="1171.2" y="488" font-size="10" fill="#000" textLength="10" lengthAdjust="spacingAndGlyphs" stroke="#000" stroke-width="0.2">70</text>
<text x="1171.2" y="514" font-size="10" fill="#000" textLength="10" lengthAdjust="spacingAndGlyphs" stroke="#000" stroke-width="0.2">30</text>
<text x="1172.5" y="528" font-size="10" fill="#000" textLength="4.8" lengthAdjust="spacingAndGlyphs" stroke="#000" stroke-width="0.2">0</text>
<rect x="1169" y="464" width="2" height="1" fill="#000"/>
<rect x="1169" y="530" width="2" height="1" fill="#000"/>
<rect x="6" y="532" width="1" height="3" fill="#000"/>
<text x="5.5" y="544" font-size="9.5" fill="#000" textLength="52.2" lengthAdjust="spacingAndGlyphs" stroke="#000" stroke-width="0.25">19 Dec 2019</text>
<rect x="70" y="532" width="1" height="3" fill="#000"/>
<text x="69.5" y="544" font-size="9.5" fill="#000" textLength="52.2" lengthAdjust="spacingAndGlyphs" stroke="#000" stroke-width="0.25">29 Dec 2019</text>
<rect x="134" y="532" width="1" height="3" fill="#000"/>
<text x="133.5" y="544" font-size="9.5" fill="#000" textLength="45.5" lengthAdjust="spacingAndGlyphs" stroke="#000" stroke-width="0.25">7 Jan 2020</text>
<rect x="198" y="532" width="1" height="3" fill="#000"/>
<text x="197.5" y="544" font-size="9.5" fill="#000" textLength="50.6" lengthAdjust="spacingAndGlyphs" stroke="#000" stroke-width="0.25">16 Jan 2020</text>
<rect x="262" y="532" width="1" height="3" fill="#000"/>
<text x="261.5" y="544" font-size="9.5" fill="#000" textLength="50.6" lengthAdjust="spacingAndGlyphs" stroke="#000" stroke-width="0.25">26 Jan 2020</text>
<rect x="326" y="532" width="1" height="3" fill="#000"/>
<text x="325.5" y="544" font-size="9.5" fill="#000" textLength="46.5" lengthAdjust="spacingAndGlyphs" stroke="#000" stroke-width="0.25">4 Feb 2020</text>
<rect x="390" y="532" width="1" height="3" fill="#000"/>
<text x="389.5" y="544" font-size="9.5" fill="#000" textLength="51.7" lengthAdjust="spacingAndGlyphs" stroke="#000" stroke-width="0.25">13 Feb 2020</text>
<rect x="454" y="532" width="1" height="3" fill="#000"/>
<text x="453.5" y="544" font-size="9.5" fill="#000" textLength="51.7" lengthAdjust="spacingAndGlyphs" stroke="#000" stroke-width="0.25">23 Feb 2020</text>
<rect x="518" y="532" width="1" height="3" fill="#000"/>
<text x="517.5" y="544" font-size="9.5" fill="#000" textLength="46.5" lengthAdjust="spacingAndGlyphs" stroke="#000" stroke-width="0.25">3 Mar 2020</text>
<rect x="582" y="532" width="1" height="3" fill="#000"/>
<text x="581.5" y="544" font-size="9.5" fill="#000" textLength="51.7" lengthAdjust="spacingAndGlyphs" stroke="#000" stroke-width="0.25">12 Mar 2020</text>
<rect x="646" y="532" width="1" height="3" fill="#000"/>
<text x="645.5" y="544" font-size="9.5" fill="#000" textLength="51.7" lengthAdjust="spacingAndGlyphs" stroke="#000" stroke-width="0.25">22 Mar 2020</text>
<rect x="710" y="532" width="1" height="3" fill="#000"/>
<text x="709.5" y="544" font-size="9.5" fill="#000" textLength="51.7" lengthAdjust="spacingAndGlyphs" stroke="#000" stroke-width="0.25">31 Mar 2020</text>
<rect x="774" y="532" width="1" height="3" fill="#000"/>
<text x="773.5" y="544" font-size="9.5" fill="#000" textLength="44.5" lengthAdjust="spacingAndGlyphs" stroke="#000" stroke-width="0.25">9 Apr 2020</text>
<rect x="838" y="532" width="1" height="3" fill="#000"/>
<text x="837.5" y="544" font-size="9.5" fill="#000" textLength="49.6" lengthAdjust="spacingAndGlyphs" stroke="#000" stroke-width="0.25">20 Apr 2020</text>
<rect x="902" y="532" width="1" height="3" fill="#000"/>
<text x="901.5" y="544" font-size="9.5" fill="#000" textLength="49.6" lengthAdjust="spacingAndGlyphs" stroke="#000" stroke-width="0.25">29 Apr 2020</text>
<rect x="0" y="552" width="1211" height="1" fill="#e4e4e4"/>
<rect x="1" y="554" width="1210" height="1" fill="#000"/>
<rect x="0" y="555" width="1211" height="1" fill="#fafafa"/>
<rect x="0" y="556" width="1211" height="18" fill="#f0f0f0"/>
<rect x="0" y="574" width="1211" height="1" fill="#ffffff"/>
<rect x="0" y="575" width="1211" height="3" fill="#f0f0f0"/>
<rect x="2" y="555" width="1" height="18" fill="#7a7a7a"/>
<rect x="1" y="555" width="1" height="18" fill="#c8c8c8"/>
<text x="18.1" y="569" font-size="12" fill="#707070" textLength="85.2" lengthAdjust="spacingAndGlyphs">EURUSD-,Daily</text>
<text x="127.2" y="569" font-size="12" fill="#707070" textLength="67.3" lengthAdjust="spacingAndGlyphs">USDJPY-,H4</text>
<text x="217.9" y="569" font-size="12" fill="#707070" textLength="61.7" lengthAdjust="spacingAndGlyphs">DJ30-,M15</text>
<text x="303.2" y="569" font-size="12" fill="#707070" textLength="84.1" lengthAdjust="spacingAndGlyphs">USDCHF-,Daily</text>
<text x="409.4" y="569" font-size="12" fill="#707070" textLength="54.5" lengthAdjust="spacingAndGlyphs">HK50-,H1</text>
<text x="485.6" y="569" font-size="12" fill="#707070" textLength="66.0" lengthAdjust="spacingAndGlyphs">GBPJPY-,H1</text>
<text x="575.4" y="569" font-size="12" fill="#707070" textLength="67.4" lengthAdjust="spacingAndGlyphs">CADJPY-,H1</text>
<text x="665.3" y="569" font-size="12" fill="#707070" textLength="70.2" lengthAdjust="spacingAndGlyphs">EURCHF-,H1</text>
<text x="757.1" y="569" font-size="12" fill="#707070" textLength="66.8" lengthAdjust="spacingAndGlyphs">JPN225-,H4</text>
<text x="846.9" y="569" font-size="12" fill="#707070" textLength="56.1" lengthAdjust="spacingAndGlyphs">USOil-,H1</text>
<rect x="115" y="558" width="1" height="12" fill="#808080"/>
<rect x="207" y="558" width="1" height="12" fill="#808080"/>
<rect x="292" y="558" width="1" height="12" fill="#808080"/>
<rect x="399" y="558" width="1" height="12" fill="#808080"/>
<rect x="475" y="558" width="1" height="12" fill="#808080"/>
<rect x="563" y="558" width="1" height="12" fill="#808080"/>
<rect x="655" y="558" width="1" height="12" fill="#808080"/>
<rect x="747" y="558" width="1" height="12" fill="#808080"/>
<rect x="836" y="558" width="1" height="12" fill="#808080"/>
<rect x="1135" y="558" width="1" height="12" fill="#808080"/>
<rect x="916" y="554" width="106" height="18" fill="#ffffff"/>
<rect x="915" y="554" width="1" height="19" fill="#000"/>
<rect x="1022" y="554" width="1" height="19" fill="#000"/>
<rect x="915" y="572" width="108" height="1" fill="#000"/>
<text x="926.6" y="569" font-size="12" fill="#000" textLength="85.5" lengthAdjust="spacingAndGlyphs">USDCAD-,Daily</text>
<text x="1035.5" y="569" font-size="12" fill="#707070" textLength="87.3" lengthAdjust="spacingAndGlyphs">USDCNH-,Daily</text>
<clipPath id="caud"><rect x="1140" y="555" width="38" height="18"/></clipPath>
<text x="1145.4" y="569" font-size="12" fill="#707070" clip-path="url(#caud)">AUDUSD</text>
<path d="M1187.5,560 L1187.5,567 L1184,563.5 Z" fill="#000"/>
<path d="M1203,560 L1203,567 L1206.5,563.5 Z" fill="#000"/>
<rect x="7" y="43" width="223" height="68" fill="#ffffff"/>
<defs><linearGradient id="gtab" x1="0" y1="0" x2="0" y2="1"><stop offset="0" stop-color="#f85050"/><stop offset="1" stop-color="#e02a2a"/></linearGradient><linearGradient id="gbox" x1="0" y1="0" x2="0" y2="1"><stop offset="0" stop-color="#e03232"/><stop offset="1" stop-color="#ad0000"/></linearGradient><linearGradient id="gboxU" gradientUnits="userSpaceOnUse" x1="0" y1="69" x2="0" y2="108"><stop offset="0" stop-color="#e03232"/><stop offset="1" stop-color="#ad0000"/></linearGradient><linearGradient id="gspin" x1="0" y1="0" x2="0" y2="1"><stop offset="0" stop-color="#f4f4f4"/><stop offset="1" stop-color="#d0d0d0"/></linearGradient></defs>
<rect x="9" y="69" width="109" height="40" fill="#b00000"/>
<rect x="10" y="69" width="107" height="39" fill="url(#gbox)"/>
<rect x="9" y="45" width="52" height="25" fill="#b00000"/>
<rect x="10" y="46" width="50" height="24" fill="url(#gtab)"/>
<rect x="13" y="68" width="44" height="1" fill="#8a0000"/>
<rect x="13" y="69" width="44" height="1" fill="#f06060"/>
<rect x="120" y="69" width="108" height="40" fill="#b00000"/>
<rect x="121" y="69" width="106" height="39" fill="url(#gbox)"/>
<rect x="176" y="45" width="52" height="25" fill="#b00000"/>
<rect x="177" y="46" width="50" height="24" fill="url(#gtab)"/>
<rect x="180" y="68" width="44" height="1" fill="#8a0000"/>
<rect x="180" y="69" width="44" height="1" fill="#f06060"/>
<text x="21.3" y="61" font-size="12.5" fill="#fff" textLength="25.5" lengthAdjust="spacingAndGlyphs">SELL</text>
<text x="189.5" y="61" font-size="12.5" fill="#fff" textLength="23" lengthAdjust="spacingAndGlyphs">BUY</text>
<text x="29.3" y="100" font-size="13" fill="#fff" textLength="22.7" lengthAdjust="spacingAndGlyphs" font-weight="bold">1.40</text>
<text x="57.1" y="100" font-size="36" fill="#fff" textLength="34" lengthAdjust="spacingAndGlyphs" stroke="url(#gboxU)" stroke-width="0.6">00</text>
<text x="96" y="84" font-size="12" fill="#fff" textLength="6.6" lengthAdjust="spacingAndGlyphs" font-weight="bold">6</text>
<text x="139.7" y="100" font-size="13" fill="#fff" textLength="22.6" lengthAdjust="spacingAndGlyphs" font-weight="bold">1.40</text>
<text x="168" y="100" font-size="35.5" fill="#fff" textLength="33.4" lengthAdjust="spacingAndGlyphs" stroke="url(#gboxU)" stroke-width="0.6">02</text>
<text x="207.3" y="84" font-size="12" fill="#fff" textLength="6" lengthAdjust="spacingAndGlyphs" font-weight="bold">7</text>
<rect x="63" y="45" width="111" height="22" fill="#a9adb3"/>
<rect x="64" y="46" width="109" height="20" fill="#ffffff"/>
<rect x="65" y="47" width="18" height="6" fill="#efefef"/>
<rect x="65" y="53" width="18" height="12" fill="#d9d9d9"/>
<rect x="154" y="47" width="18" height="6" fill="#efefef"/>
<rect x="154" y="53" width="18" height="12" fill="#d9d9d9"/>
<rect x="84" y="46" width="1" height="20" fill="#a9adb3"/>
<rect x="152" y="46" width="1" height="20" fill="#a9adb3"/>
<rect x="71" y="54" width="5" height="1" fill="#5a78d8"/>
<rect x="72" y="55" width="3" height="1" fill="#4a64c0"/>
<rect x="73" y="56" width="1" height="1" fill="#3048a0"/>
<rect x="162" y="54" width="1" height="1" fill="#5a78d8"/>
<rect x="161" y="55" width="3" height="1" fill="#5a78d8"/>
<rect x="160" y="56" width="5" height="1" fill="#4a64c0"/>
<text x="148.6" y="60" font-size="13" fill="#000" textLength="31" lengthAdjust="spacingAndGlyphs" text-anchor="end">20.00</text>
</svg>
</body></html>
